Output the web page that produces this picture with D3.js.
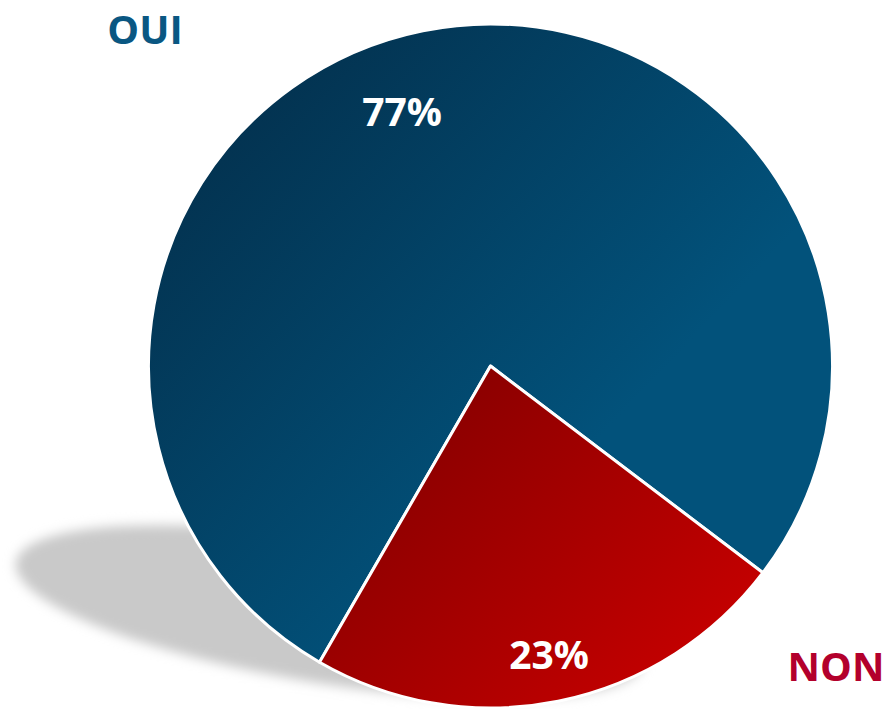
<!DOCTYPE html>
<meta charset="utf-8">
<head>
  <script type="text/javascript" src="https://cdn.jsdelivr.net/npm/d3@7"></script>
  <style>
    body { margin: 0; background: #fff; }
    .lbl { font-family: "Open Sans", sans-serif; font-weight: 700; }
  </style>
</head>
<body>
<script>
  // data
  var categories = ["OUI", "NON"];
  var values = [77, 23];
  var pctLabels = ["77%", "23%"];
  var sliceColors = [["#03304d", "#02527b"], ["#880000", "#c60000"]];
  var nameColors = ["#0a5782", "#b3002c"];

  var w = 891, h = 709;
  var cx = 490.5, cy = 366, r = 342;

  var svg = d3.select("body").append("svg")
    .attr("width", w).attr("height", h);

  var defs = svg.append("defs");
  defs.append("filter").attr("id", "blur")
    .attr("x", "-20%").attr("y", "-50%").attr("width", "140%").attr("height", "200%")
    .append("feGaussianBlur").attr("stdDeviation", 6);

  // gradients, one per slice (coords relative to pie centre)
  var grads = [
    { x1: -260, y1: -300, x2: 120, y2: 60 },
    { x1: -60, y1: 20, x2: 220, y2: 300 }
  ];
  categories.forEach(function(c, i) {
    var gr = defs.append("linearGradient").attr("id", "g" + i)
      .attr("gradientUnits", "userSpaceOnUse")
      .attr("x1", grads[i].x1).attr("y1", grads[i].y1)
      .attr("x2", grads[i].x2).attr("y2", grads[i].y2);
    gr.append("stop").attr("offset", "0%").attr("stop-color", sliceColors[i][0]);
    gr.append("stop").attr("offset", "100%").attr("stop-color", sliceColors[i][1]);
  });

  // shadow
  svg.append("ellipse")
    .attr("cx", 330).attr("cy", 612)
    .attr("rx", 318).attr("ry", 72)
    .attr("transform", "rotate(9,330,612)")
    .attr("fill", "#c9c9c9")
    .attr("filter", "url(#blur)");

  var pie = d3.pie().sort(null)
    .startAngle(-150 * Math.PI / 180)
    .endAngle(210 * Math.PI / 180);
  var arcs = pie(values);
  var arc = d3.arc().innerRadius(0).outerRadius(r);

  var g = svg.append("g").attr("transform", "translate(" + cx + "," + cy + ")");
  g.selectAll("path").data(arcs).enter().append("path")
    .attr("d", arc)
    .attr("fill", function(d, i) { return "url(#g" + i + ")"; })
    .attr("stroke", "#fff")
    .attr("stroke-width", 3)
    .attr("stroke-linejoin", "round");

  // percent labels
  var pctPos = [[402, 126], [549, 669]];
  svg.selectAll(".pct").data(pctLabels).enter().append("text")
    .attr("class", "lbl pct")
    .attr("x", function(d, i) { return pctPos[i][0]; })
    .attr("y", function(d, i) { return pctPos[i][1]; })
    .attr("text-anchor", "middle")
    .attr("font-size", 39)
    .attr("fill", "#fff")
    .text(function(d) { return d; });

  // category names
  var namePos = [[145, 44], [836, 681]];
  svg.selectAll(".nm").data(categories).enter().append("text")
    .attr("class", "lbl nm")
    .attr("x", function(d, i) { return namePos[i][0]; })
    .attr("y", function(d, i) { return namePos[i][1]; })
    .attr("text-anchor", "middle")
    .attr("font-size", 40)
    .attr("fill", function(d, i) { return nameColors[i]; })
    .text(function(d) { return d; });
</script>
</body>
